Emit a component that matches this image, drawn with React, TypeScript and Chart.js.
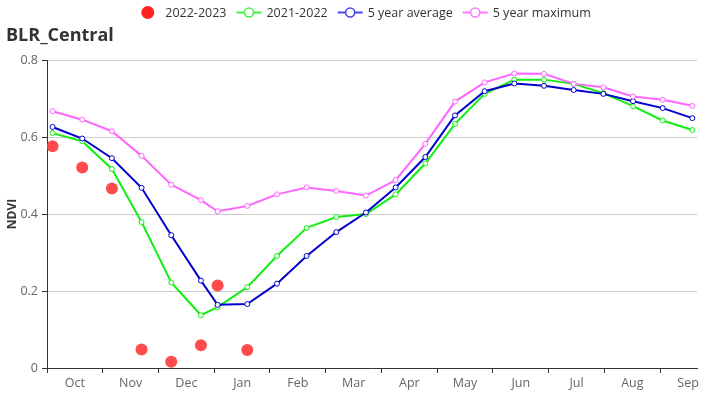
import React, { useEffect, useRef } from "react";
import { Chart, registerables } from "chart.js";

Chart.register(...registerables);

const W = 726;
const H = 400;
const FONT = '"Open Sans", "Noto Sans", sans-serif';

// Composite dates (MM-DD), season starting Oct 1
const dates = [
  "10-04", "10-20", "11-05", "11-21", "12-07", "12-23",
  "01-01", "01-17", "02-02", "02-18", "03-06", "03-22",
  "04-07", "04-23", "05-09", "05-25", "06-10", "06-26",
  "07-12", "07-28", "08-13", "08-29", "09-14",
];

const season2022_2023 = [0.576, 0.521, 0.466, 0.048, 0.016, 0.059, 0.214, 0.047];

const season2021_2022 = [
  0.61, 0.589, 0.517, 0.379, 0.222, 0.137, 0.158, 0.21, 0.291, 0.364, 0.392, 0.4,
  0.451, 0.531, 0.634, 0.712, 0.749, 0.749, 0.738, 0.714, 0.68, 0.643, 0.618,
];

const fiveYearAverage = [
  0.626, 0.596, 0.545, 0.468, 0.345, 0.227, 0.164, 0.166, 0.219, 0.291, 0.353, 0.404,
  0.469, 0.548, 0.656, 0.719, 0.739, 0.733, 0.722, 0.712, 0.693, 0.675, 0.649,
];

const fiveYearMaximum = [
  0.667, 0.645, 0.615, 0.551, 0.476, 0.436, 0.407, 0.421, 0.451, 0.469, 0.46, 0.448,
  0.488, 0.582, 0.692, 0.742, 0.765, 0.764, 0.738, 0.729, 0.705, 0.697, 0.681,
];

const monthLabels = ["Oct", "Nov", "Dec", "Jan", "Feb", "Mar", "Apr", "May", "Jun", "Jul", "Aug", "Sep"];
const yTicks = [0, 0.2, 0.4, 0.6, 0.8];

const seriesNames = ["2022-2023", "2021-2022", "5 year average", "5 year maximum"];
const seriesColors = ["#ff3b3b", "#11ee11", "#0000cc", "#ff66ff"];
const legendColors = ["#ff2222", "#44f044", "#4444ee", "#ff77ff"];

const X_MAX = 350.5; // days from Oct 1 shown
const MONTH_STEP = 30.06; // axis month spacing in days

const monthStart = [0, 31, 61, 92, 123, 151, 182, 212, 243, 273, 304, 335]; // Oct..Sep, non-leap

function dayOfSeason(md: string): number {
  const [m, d] = md.split("-").map(Number);
  const idx = (m + 12 - 10) % 12;
  return monthStart[idx] + d - 1;
}

const xs = dates.map(dayOfSeason);
const toPts = (vals: number[]) => vals.map((v, i) => ({ x: xs[i], y: v }));

type TickDef = { value: number; label: string; boundary: boolean };
const xTickDefs: TickDef[] = [];
monthLabels.forEach((m, i) => {
  const b = i * MONTH_STEP;
  const c = (i + 0.5) * MONTH_STEP;
  if (b <= X_MAX) xTickDefs.push({ value: b, label: "", boundary: true });
  if (c <= X_MAX) xTickDefs.push({ value: c, label: m, boundary: false });
});

const overlayPlugin = {
  id: "overlay",
  afterDraw(chart: any) {
    const ctx = chart.ctx as CanvasRenderingContext2D;
    ctx.save();
    // Title
    ctx.fillStyle = "#333";
    ctx.font = `bold 18px ${FONT}`;
    ctx.textAlign = "left";
    ctx.textBaseline = "alphabetic";
    ctx.fillText("BLR_Central", 6, 41);

    // Y axis title
    ctx.save();
    ctx.translate(13, 214);
    ctx.rotate(-Math.PI / 2);
    ctx.font = `bold 12px ${FONT}`;
    ctx.textAlign = "center";
    ctx.textBaseline = "middle";
    ctx.fillStyle = "#333";
    ctx.fillText("NDVI", 0, 0);
    ctx.restore();

    // Legend
    ctx.font = `12.5px ${FONT}`;
    const symW = 25;
    const gapText = 5;
    const gapItem = 10;
    const widths = seriesNames.map((n) => ctx.measureText(n).width);
    const total = widths.reduce((a, w) => a + symW + gapText + w, 0) + gapItem * (seriesNames.length - 1);
    let x = W / 2 - total / 2;
    const y = 12.5;
    seriesNames.forEach((name, i) => {
      const col = legendColors[i];
      if (i === 0) {
        ctx.beginPath();
        ctx.arc(x + symW / 2, y, 6.5, 0, Math.PI * 2);
        ctx.fillStyle = col;
        ctx.fill();
      } else {
        ctx.beginPath();
        ctx.moveTo(x, y);
        ctx.lineTo(x + symW, y);
        ctx.strokeStyle = col;
        ctx.lineWidth = 2;
        ctx.stroke();
        ctx.beginPath();
        ctx.arc(x + symW / 2, y, 4.5, 0, Math.PI * 2);
        ctx.fillStyle = "#fff";
        ctx.fill();
        ctx.lineWidth = 1.5;
        ctx.stroke();
      }
      ctx.fillStyle = "#333";
      ctx.textAlign = "left";
      ctx.textBaseline = "middle";
      ctx.fillText(name, x + symW + gapText, y + 0.5);
      x += symW + gapText + widths[i] + gapItem;
    });
    ctx.restore();
  },
};

export default function App() {
  const ref = useRef<HTMLCanvasElement | null>(null);

  useEffect(() => {
    if (!ref.current) return;
    Chart.defaults.font.family = FONT;
    const lineDs = (i: number, vals: number[], order: number) => ({
      label: seriesNames[i],
      data: toPts(vals),
      borderColor: seriesColors[i],
      backgroundColor: seriesColors[i],
      borderWidth: 2,
      pointRadius: 2.5,
      pointBorderWidth: 1,
      pointBackgroundColor: "#fff",
      pointBorderColor: seriesColors[i],
      tension: 0,
      order,
    });
    const chart = new Chart(ref.current, {
      type: "line",
      data: {
        datasets: [
          {
            label: seriesNames[0],
            data: toPts(season2022_2023),
            showLine: false,
            pointRadius: 6,
            pointBorderWidth: 0,
            pointBackgroundColor: "rgba(255,60,60,0.92)",
            pointBorderColor: "rgba(0,0,0,0)",
            borderColor: seriesColors[0],
            backgroundColor: seriesColors[0],
            order: 0,
          } as any,
          lineDs(1, season2021_2022, 3),
          lineDs(2, fiveYearAverage, 2),
          lineDs(3, fiveYearMaximum, 1),
        ],
      },
      options: {
        responsive: false,
        animation: false,
        events: [],
        layout: { padding: { left: 0, right: 29, top: 60, bottom: 0 } },
        plugins: {
          legend: { display: false },
          title: { display: false },
          tooltip: { enabled: false },
        },
        scales: {
          x: {
            type: "linear",
            min: 0,
            max: X_MAX,
            afterFit: (s: any) => {
              s.height = 32;
            },
            afterBuildTicks: (s: any) => {
              s.ticks = xTickDefs.map((t) => ({ value: t.value }));
            },
            ticks: {
              autoSkip: false,
              maxRotation: 0,
              minRotation: 0,
              color: "#666",
              font: { size: 12.5, family: FONT },
              padding: 3,
              callback: (_v: any, i: number) => xTickDefs[i]?.label ?? "",
            },
            grid: {
              drawOnChartArea: false,
              tickLength: 5,
              tickColor: (c: any) => (xTickDefs[c.index]?.boundary ? "#333" : "rgba(0,0,0,0)"),
            },
            border: { color: "#333", width: 1 },
          },
          y: {
            min: 0,
            max: 0.8,
            afterFit: (s: any) => {
              s.width = 47;
            },
            afterBuildTicks: (s: any) => {
              s.ticks = yTicks.map((v) => ({ value: v }));
            },
            ticks: {
              color: "#666",
              font: { size: 12.5, family: FONT },
              padding: 4,
              callback: (v: any) => String(Number(v)),
            },
            grid: { color: "#ccc", tickLength: 5, tickColor: "#333" },
            border: { color: "#333", width: 1 },
          },
        },
      } as any,
      plugins: [overlayPlugin],
    });
    return () => chart.destroy();
  }, []);

  return (
    <div style={{ position: "fixed", left: 0, top: 0, width: W, height: H, background: "#fff" }}>
      <canvas ref={ref} width={W} height={H} style={{ width: W, height: H, display: "block" }} />
    </div>
  );
}
